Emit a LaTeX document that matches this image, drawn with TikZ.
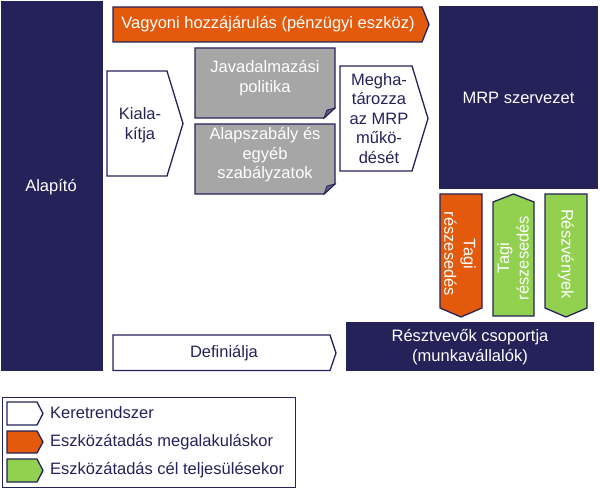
\documentclass[tikz,border=0pt]{standalone}
\usepackage{fontspec}
\setmainfont{Liberation Sans}
\definecolor{navy}{HTML}{25225A}
\definecolor{orng}{HTML}{E35A0C}
\definecolor{grn}{HTML}{92D050}
\definecolor{gry}{HTML}{A6A6A6}
\definecolor{fold}{HTML}{5E5C7A}
\tikzset{
  shp/.style={draw=navy, line width=1.3pt, line join=miter},
  wtxt/.style={text=white, font=\fontsize{16.5}{19.5}\selectfont, align=center, inner sep=0pt},
  ntxt/.style={text=navy, font=\fontsize{16.5}{19.5}\selectfont, align=center, inner sep=0pt},
  ltxt/.style={text=navy, font=\fontsize{16.5}{19.5}\selectfont, anchor=west, inner sep=0pt},
}
\begin{document}
\begin{tikzpicture}[x=1pt,y=-1pt]
\useasboundingbox (0,0) rectangle (600,489);
% Alapito
\draw[shp, fill=navy] (1.5,1.5) rectangle (102,370.5);
\node[wtxt] (alap) at (51,187) {Alapító};
% Vagyoni arrow
\draw[shp, fill=orng] (113,7) -- (422,7) -- (429,24.5) -- (422,42) -- (113,42) -- cycle;
\node[wtxt] (vag) at (268,24.5) {Vagyoni hozzájárulás (pénzügyi eszköz)};
% Kialakitja
\draw[shp, fill=white] (107,71) -- (167,71) -- (183,123.5) -- (167,176) -- (107,176) -- cycle;
\node[ntxt] (kial) at (140,125) {Kiala-\\kítja};
% Gray boxes
\draw[shp, fill=gry] (195,48) -- (335,48) -- (335,108) -- (324,118) -- (195,118) -- cycle;
\draw[shp, fill=fold, line width=0.8pt] (335,108) -- (327,110) -- (324,118) -- cycle;
\node[wtxt] (jav) at (265,78) {Javadalmazási\\politika};
\draw[shp, fill=gry] (195,124) -- (335,124) -- (335,184) -- (324,194) -- (195,194) -- cycle;
\draw[shp, fill=fold, line width=0.8pt] (335,184) -- (327,186) -- (324,194) -- cycle;
\node[wtxt] (alsz) at (265,155) {Alapszabály és\\egyéb\\szabályzatok};
% Meghatarozza
\draw[shp, fill=white] (340,66) -- (412,66) -- (428,118.5) -- (412,171) -- (340,171) -- cycle;
\node[ntxt] (megh) at (379,118.5) {Megha-\\tározza\\az MRP\\műkö-\\dését};
% MRP
\draw[shp, fill=navy] (440,7) rectangle (597,188);
\node[wtxt] (mrp) at (518.5,98) {MRP szervezet};
% vertical arrows
\draw[shp, fill=orng] (440,194) -- (482,194) -- (482,308) -- (461,317) -- (440,308) -- cycle;
\node[wtxt, rotate=-90] (tagi1) at (460,254) {Tagi\\részesedés};
\draw[shp, fill=grn] (493,202) -- (513.5,194) -- (534,202) -- (534,316) -- (493,316) -- cycle;
\node[wtxt, rotate=90] (tagi2) at (513,258) {Tagi\\részesedés};
\draw[shp, fill=grn] (545,194) -- (587,194) -- (587,308) -- (566,317) -- (545,308) -- cycle;
\node[wtxt, rotate=-90] (reszv) at (566,254) {Részvények};
% Resztvevok
\draw[shp, fill=navy] (347,323) rectangle (593,370.5);
\node[wtxt] (resz) at (470,347) {Résztvevők csoportja\\(munkavállalók)};
% Definialja
\draw[shp, fill=white] (113,335) -- (330,335) -- (336,353) -- (330,370.5) -- (113,370.5) -- cycle;
\node[ntxt] (def) at (224,353) {Definiálja};
% Legend
\draw[draw=navy, line width=1pt] (2,397) rectangle (295,487.5);
\draw[shp, fill=white] (7,402) -- (37,402) -- (43,413.5) -- (37,425) -- (7,425) -- cycle;
\node[ltxt] (l1) at (50,413) {Keretrendszer};
\draw[shp, fill=orng] (7,431) -- (37,431) -- (43,442) -- (37,453) -- (7,453) -- cycle;
\node[ltxt] (l2) at (50,442) {Eszközátadás megalakuláskor};
\draw[shp, fill=grn] (7,459) -- (37,459) -- (43,470.5) -- (37,482) -- (7,482) -- cycle;
\node[ltxt] (l3) at (50,470) {Eszközátadás cél teljesülésekor};
\end{tikzpicture}
\end{document}
